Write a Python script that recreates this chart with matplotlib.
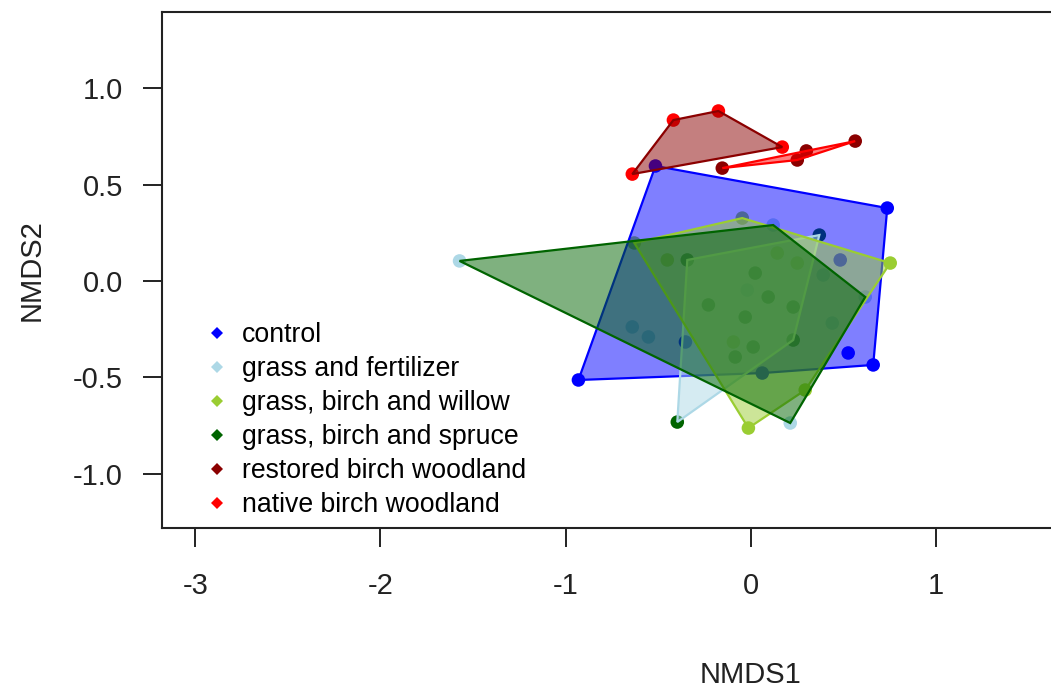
import numpy as np
import matplotlib.pyplot as plt
from matplotlib.lines import Line2D

plt.rcParams['font.family'] = ['Liberation Sans', 'DejaVu Sans']

groups = ['control', 'grass and fertilizer', 'grass, birch and willow',
          'grass, birch and spruce', 'restored birch woodland', 'native birch woodland']
point_colors = ['blue', 'lightblue', 'yellowgreen', 'darkgreen', 'darkred', 'red']
# hull colours come out in a different order than the points in the original
hull_colors = ['blue', 'darkgreen', 'yellowgreen', 'lightblue', 'red', 'darkred']
hull_order = [0, 3, 2, 1, 4, 5]

control_x = [-0.515, 0.737, 0.661, -0.931, 0.483, 0.526, -0.353, 0.062]
control_y = [0.596, 0.378, -0.435, -0.513, 0.109, -0.373, -0.316, -0.477]

fert_x = [-1.573, 0.121, 0.618, 0.213, -0.640, -0.553, -0.019, 0.391, 0.440]
fert_y = [0.104, 0.290, -0.083, -0.736, -0.238, -0.290, -0.047, 0.031, -0.218]

willow_x = [-0.013, 0.753, -0.629, -0.046, 0.294, 0.143, 0.251, -0.094, -0.451]
willow_y = [-0.762, 0.093, 0.197, 0.326, -0.565, 0.145, 0.093, -0.316, 0.109]

spruce_x = [-0.397, -0.343, 0.370, 0.229, -0.229, -0.030, 0.024, 0.229, 0.013, 0.094, -0.084]
spruce_y = [-0.731, 0.109, 0.238, -0.306, -0.124, -0.187, 0.041, -0.135, -0.342, -0.083, -0.394]

restored_x = [-0.154, 0.251, 0.300, 0.564]
restored_y = [0.585, 0.627, 0.674, 0.725]

native_x = [-0.640, -0.418, -0.175, 0.170]
native_y = [0.554, 0.834, 0.881, 0.694]

xs = [control_x, fert_x, willow_x, spruce_x, restored_x, native_x]
ys = [control_y, fert_y, willow_y, spruce_y, restored_y, native_y]


def hull(px, py):
    pts = sorted(set(zip(px, py)))
    if len(pts) < 3:
        return pts

    def cross(o, a, b):
        return (a[0] - o[0]) * (b[1] - o[1]) - (a[1] - o[1]) * (b[0] - o[0])
    lower, upper = [], []
    for p in pts:
        while len(lower) >= 2 and cross(lower[-2], lower[-1], p) <= 0:
            lower.pop()
        lower.append(p)
    for p in reversed(pts):
        while len(upper) >= 2 and cross(upper[-2], upper[-1], p) <= 0:
            upper.pop()
        upper.append(p)
    return lower[:-1] + upper[:-1]


W, H = 1051, 690
fig = plt.figure(figsize=(W / 100, H / 100), dpi=100)
ax = fig.add_axes([162 / W, 162 / H, 0.8562, 516 / H])

for gx, gy, c in zip(xs, ys, point_colors):
    ax.scatter(gx, gy, s=95, color=c, edgecolors='none', zorder=2)

for i in hull_order:
    h = np.array(hull(xs[i], ys[i]))
    c = hull_colors[i]
    ax.fill(h[:, 0], h[:, 1], facecolor=c, alpha=0.5, edgecolor='none', zorder=3)
    ax.fill(h[:, 0], h[:, 1], facecolor='none', edgecolor=c, linewidth=1.6, zorder=3)

ax.set_xlim(-3.18, 1.68)
ax.set_ylim(-1.28, 1.394)
ax.set_xticks([-3, -2, -1, 0, 1])
ax.set_xticklabels(['-3', '-2', '-1', '0', '1'])
ax.set_yticks([-1.0, -0.5, 0.0, 0.5, 1.0])
ax.set_yticklabels(['-1.0', '-0.5', '0.0', '0.5', '1.0'])
ax.tick_params(axis='x', length=14, width=1.4, pad=18, labelsize=21, colors='#222222')
ax.tick_params(axis='y', length=14, width=1.4, pad=14, labelsize=21, colors='#222222')
for s in ax.spines.values():
    s.set_linewidth(1.5)
    s.set_color('#222222')

fig.text(750 / W, 1 - 675 / H, 'NMDS1', ha='center', va='center', fontsize=21, color='#222222')
fig.text(32 / W, 1 - 270 / H, 'NMDS2', ha='center', va='center', rotation=90,
         fontsize=21, color='#222222')

handles = [Line2D([], [], linestyle='none', marker='D', markersize=6.5, color=c,
                  markeredgewidth=0) for c in point_colors]
ax.legend(handles, groups, loc='lower left', bbox_to_anchor=(0.028, -0.012), frameon=False,
          fontsize=19.2, handlelength=1.0, handletextpad=0.45, labelspacing=0.3,
          borderaxespad=0.2)

fig.savefig('out.png', dpi=100)
